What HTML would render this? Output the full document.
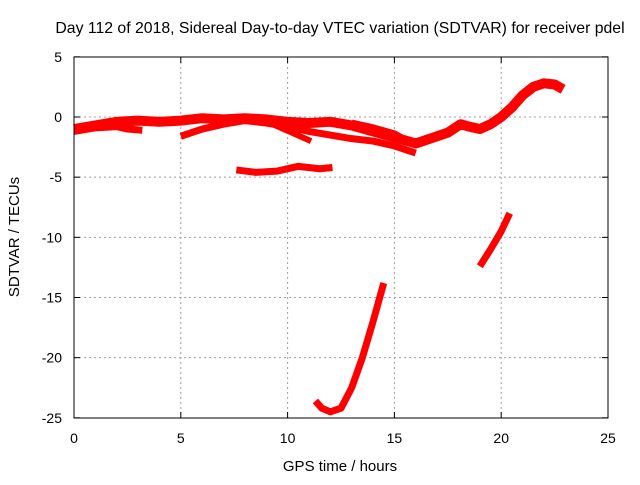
<!DOCTYPE html>
<html><head><meta charset="utf-8"><style>
body{margin:0;background:#fff;}
svg text{font-family:"Liberation Sans",sans-serif;font-size:14px;fill:#000;}
</style></head><body>
<svg width="640" height="480">
<g id="grid"></g>
<g id="series"></g>
<rect x="74" y="57" width="534" height="361" fill="none" stroke="#000" stroke-width="1"/>
<g id="ticks"></g>
<text x="340" y="33" text-anchor="middle" style="font-size:15.8px">Day 112 of 2018, Sidereal Day-to-day VTEC variation (SDTVAR) for receiver pdel</text>
<text x="340" y="471" text-anchor="middle" style="font-size:15px">GPS time / hours</text>
<text x="19" y="237" text-anchor="middle" style="font-size:15px" transform="rotate(-90 19 237)">SDTVAR / TECUs</text>
</svg>
<script>
const xTicks=[0,5,10,15,20,25];
const yTicks=[5,0,-5,-10,-15,-20,-25];
const sA_x=[0,1,2,3,4,5,6,7,8,9,10,11,12,13,14,15,16,17,17.5,18.1,18.5,19,19.5,20,20.5,21,21.5,22,22.5,22.9];
const sA_y=[-1,-0.7,-0.4,-0.3,-0.4,-0.3,-0.1,-0.2,-0.1,-0.2,-0.4,-0.5,-0.4,-0.7,-1.2,-1.7,-2.2,-1.6,-1.3,-0.6,-0.8,-1,-0.6,0,0.8,1.8,2.5,2.8,2.7,2.3];
const sB_x=[0,1,2,2.5,3.2];
const sB_y=[-1.2,-0.9,-0.8,-1,-1.1];
const sC_x=[5,6,7,8,9,10,11,12,13,14,15,16];
const sC_y=[-1.6,-1,-0.6,-0.3,-0.5,-0.8,-1.2,-1.5,-1.8,-2,-2.4,-3];
const sD_x=[9.3,10.2,11.1];
const sD_y=[-0.6,-1.3,-2];
const sE_x=[13,14,15,15.6];
const sE_y=[-0.5,-0.9,-1.4,-2];
const sF_x=[7.6,8.5,9.5,10.5,11.5,12.1];
const sF_y=[-4.4,-4.6,-4.5,-4.1,-4.3,-4.2];
const sG_x=[11.3,11.6,12,12.5,13,13.5,14,14.5];
const sG_y=[-23.6,-24.2,-24.5,-24.2,-22.5,-20,-17,-13.8];
const sH_x=[19,19.5,20,20.4];
const sH_y=[-12.4,-11,-9.5,-8];
const X=h=>74+h*21.36, Y=v=>117-v*12.033;
const NS='http://www.w3.org/2000/svg';
const grid=document.getElementById('grid'),ticks=document.getElementById('ticks'),ser=document.getElementById('series');
function mk(t,a,p){const e=document.createElementNS(NS,t);for(const k in a)e.setAttribute(k,a[k]);p.appendChild(e);return e;}
xTicks.forEach(t=>{const x=X(t);
 if(t>0&&t<25){const g=mk('line',{x1:x,x2:x,y1:57,y2:418,stroke:'#a0a0a0','stroke-dasharray':'2,3'},grid);
 
 }
 mk('line',{x1:x,x2:x,y1:418,y2:412,stroke:'#000'},ticks);mk('line',{x1:x,x2:x,y1:57,y2:63,stroke:'#000'},ticks);
 const l=mk('text',{x:x,y:443,'text-anchor':'middle'},ticks);l.textContent=t;
 
 });
yTicks.forEach(t=>{const y=Y(t);
 if(t<5&&t>-25){const g=mk('line',{x1:74,x2:608,y1:y,y2:y,stroke:'#a0a0a0','stroke-dasharray':'2,3'},grid);
 
 }
 mk('line',{x1:74,x2:80,y1:y,y2:y,stroke:'#000'},ticks);mk('line',{x1:608,x2:602,y1:y,y2:y,stroke:'#000'},ticks);
 const l=mk('text',{x:62,y:y+5,'text-anchor':'end'},ticks);l.textContent=t;
 
 });
[[sA_x,sA_y,10],[sB_x,sB_y,7],[sC_x,sC_y,7],[sD_x,sD_y,6],[sE_x,sE_y,7],[sF_x,sF_y,7],[sG_x,sG_y,7],[sH_x,sH_y,7]].forEach((s,i)=>{
 const pts=s[0].map((h,j)=>X(h)+','+Y(s[1][j])).join(' ');
 const p=mk('polyline',{points:pts,fill:'none',stroke:'#ff0000','stroke-width':s[2],'stroke-linejoin':'round'},ser);
 
 });
</script>
</body></html>
